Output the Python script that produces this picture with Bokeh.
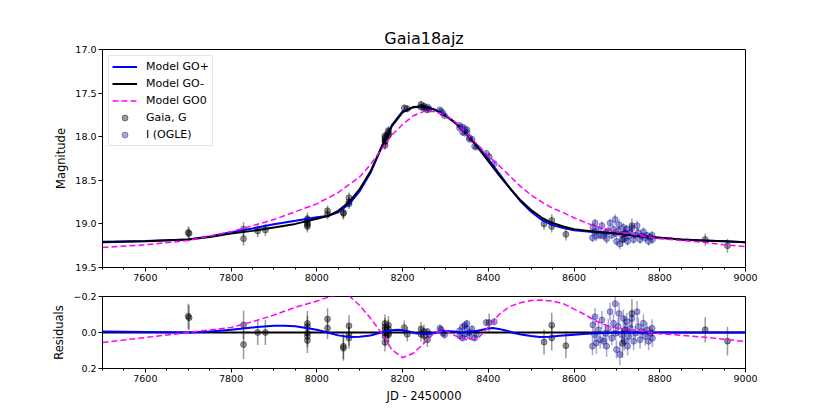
import numpy as np
from bokeh.plotting import figure
from bokeh.layouts import column
from bokeh.models import (Range1d, FixedTicker, NumeralTickFormatter, CustomJSTickFormatter,
                          Legend, LegendItem, ColumnDataSource)
from bokeh.embed import file_html
from bokeh.resources import INLINE

# ---------------- data ----------------
title_text = "Gaia18ajz"
x_label = "JD - 2450000"
y_label_top = "Magnitude"
y_label_bot = "Residuals"
x_ticks = [7600, 7800, 8000, 8200, 8400, 8600, 8800, 9000]
y_ticks_top = [17.0, 17.5, 18.0, 18.5, 19.0, 19.5]
y_ticks_bot = [-0.2, 0.0, 0.2]

# model curves (magnitude)
model_jd = [7500, 7600, 7700, 7750, 7800, 7850, 7900, 7950, 8000, 8025, 8050, 8075, 8100, 8125,
            8150, 8175, 8200, 8225, 8250, 8275, 8300, 8325, 8350, 8375, 8400, 8425, 8450, 8475,
            8500, 8525, 8550, 8575, 8600, 8650, 8700, 8750, 8800, 8850, 8900, 8950, 9000]
go_minus = [19.21, 19.20, 19.18, 19.15, 19.11, 19.08, 19.04, 19.00, 18.94, 18.91, 18.85, 18.75, 18.60, 18.40,
            18.13, 17.88, 17.72, 17.66, 17.65, 17.69, 17.76, 17.85, 17.97, 18.12, 18.28, 18.44, 18.59, 18.73,
            18.84, 18.93, 18.99, 19.03, 19.06, 19.09, 19.11, 19.14, 19.16, 19.18, 19.19, 19.20, 19.21]
go_plus = [19.205, 19.197, 19.18, 19.145, 19.095, 19.052, 19.003, 18.965, 18.925, 18.91, 18.866, 18.775, 18.624, 18.417,
           18.13, 17.868, 17.708, 17.662, 17.658, 17.69, 17.752, 17.846, 17.965, 18.11, 18.258, 18.42, 18.587, 18.74,
           18.86, 18.955, 19.014, 19.048, 19.072, 19.097, 19.11, 19.14, 19.16, 19.18, 19.19, 19.20, 19.21]
go0_jd = [7500, 7600, 7700, 7750, 7800, 7850, 7900, 7950, 8000, 8050, 8100, 8125, 8150, 8175, 8200, 8225,
          8250, 8275, 8300, 8325, 8350, 8375, 8400, 8425, 8450, 8475, 8500, 8525, 8550, 8575, 8600, 8650,
          8700, 8750, 8800, 8850, 8900, 8950, 9000]
go0 = [19.27, 19.24, 19.19, 19.14, 19.09, 19.02, 18.95, 18.86, 18.77, 18.64, 18.46, 18.32, 18.15, 17.98, 17.86, 17.76,
       17.71, 17.71, 17.75, 17.84, 17.97, 18.09, 18.22, 18.33, 18.45, 18.57, 18.67, 18.75, 18.82, 18.87, 18.93, 19.03,
       19.09, 19.13, 19.17, 19.19, 19.21, 19.24, 19.26]

# residual curves (relative to GO-)
res_zero_jd = [7500, 9000]
res_zero = [0.0, 0.0]
res_plus_jd = [7500, 7600, 7700, 7750, 7800, 7850, 7900, 7925, 7950, 8000, 8025, 8050, 8075, 8100, 8125, 8150,
               8175, 8190, 8210, 8230, 8260, 8280, 8294, 8320, 8340, 8360, 8375, 8400, 8410, 8425, 8443, 8460,
               8480, 8500, 8520, 8545, 8567, 8600, 8630, 8700, 8800, 9000]
res_plus = [-0.005, -0.003, 0.0, -0.005, -0.015, -0.028, -0.037, -0.038, -0.035, -0.015, 0.0, 0.016, 0.025, 0.024, 0.017, 0.0,
            -0.012, -0.015, -0.008, 0.004, 0.009, 0.0, -0.010, -0.005, 0.0, -0.005, -0.010, -0.022, -0.025, -0.020, -0.010, 0.003,
            0.013, 0.020, 0.025, 0.024, 0.018, 0.012, 0.007, 0.0, 0.0, 0.0]
res_go0_jd = [7500, 7600, 7700, 7800, 7850, 7900, 7950, 8000, 8025, 8050, 8075, 8100, 8125, 8150, 8175, 8200, 8225,
              8250, 8275, 8300, 8325, 8350, 8375, 8400, 8425, 8450, 8475, 8500, 8525, 8550, 8575, 8600, 8625, 8650,
              8675, 8700, 8750, 8800, 8850, 8900, 8950, 9000]
res_go0 = [0.055, 0.028, 0.0, -0.028, -0.06, -0.097, -0.14, -0.175, -0.195, -0.21, -0.205, -0.15, -0.08, 0.0, 0.095, 0.14, 0.115,
           0.06, 0.0, -0.01, 0.02, 0.04, 0.035, -0.03, -0.10, -0.145, -0.165, -0.178, -0.18, -0.175, -0.16, -0.13, -0.10, -0.065,
           -0.04, -0.025, -0.01, 0.007, 0.015, 0.025, 0.038, 0.05]

# Gaia G photometry
gaia_jd = [7700, 7702, 7829, 7829, 7862, 7880,
           7978, 7978, 7978, 7978, 7978,
           8025, 8025, 8062, 8062, 8075, 8075, 8075,
           8159, 8159, 8159, 8159, 8159, 8159,
           8167, 8167, 8167, 8167,
           8204, 8211, 8243, 8243, 8250, 8250, 8258,
           8402, 8530, 8548, 8548, 8581, 8713, 8718, 8735, 8906, 8958]
gaia_mag = [19.10, 19.11, 19.06, 19.17, 19.08, 19.07,
            18.94, 18.96, 18.99, 19.01, 19.03,
            18.85, 18.89, 18.87, 18.88, 18.70, 18.75, 18.77,
            17.99, 18.01, 18.03, 18.05, 18.06, 18.10,
            17.93, 17.95, 17.98, 17.98,
            17.67, 17.68, 17.63, 17.66, 17.65, 17.67, 17.69,
            18.23, 19.00, 18.96, 19.03, 19.12, 19.18, 19.11, 19.02, 19.18, 19.25]
gaia_err = [0.07, 0.07, 0.08, 0.08, 0.07, 0.07,
            0.07, 0.06, 0.06, 0.06, 0.07,
            0.06, 0.06, 0.07, 0.07, 0.06, 0.06, 0.06,
            0.05, 0.05, 0.05, 0.05, 0.05, 0.05,
            0.05, 0.05, 0.05, 0.05,
            0.04, 0.04, 0.04, 0.04, 0.04, 0.04, 0.04,
            0.05, 0.07, 0.07, 0.07, 0.07, 0.08, 0.08, 0.08, 0.07, 0.08]
gaia_res = [-0.090, -0.082, -0.042, 0.067, 0.000, 0.000,
            -0.050, -0.033, 0.004, 0.022, 0.044,
            -0.075, -0.024, 0.077, 0.087, -0.037, 0.013, 0.030,
            -0.050, -0.030, -0.015, 0.004, 0.022, 0.055,
            -0.040, -0.020, 0.005, 0.013,
            -0.027, 0.010, -0.020, 0.010, -0.005, 0.018, 0.040,
            -0.055, 0.053, -0.040, 0.030, 0.073, 0.060, -0.010, -0.105, -0.015, 0.048]

# OGLE I photometry
ogle_jd = [8258, 8262, 8287, 8290, 8294, 8298, 8333, 8333, 8340, 8340, 8345, 8345, 8350, 8350,
           8356, 8356, 8362, 8368, 8372, 8395, 8414,
           8643, 8644, 8648, 8649, 8652, 8657, 8661, 8665, 8669, 8673, 8676, 8680, 8684, 8688,
           8692, 8696, 8697, 8699, 8703, 8705, 8707, 8711, 8715, 8717, 8720, 8723, 8725, 8728,
           8731, 8735, 8739, 8743, 8747, 8750, 8754, 8758, 8762, 8766, 8770, 8774, 8778, 8782, 8783]
ogle_mag = [17.66, 17.68, 17.69, 17.71, 17.73, 17.76, 17.87, 17.90, 17.89, 17.95, 17.91, 17.96, 17.92, 17.95,
            18.01, 18.03, 18.03, 18.11, 18.12, 18.19, 18.31,
            19.16, 19.04, 19.09, 18.99, 19.14, 19.07, 19.13, 19.02, 19.14, 19.10, 19.17, 19.08, 18.99, 19.13,
            19.06, 18.95, 19.11, 19.20, 19.08, 19.01, 19.23, 19.12, 19.04, 19.17, 19.11, 19.06, 19.20, 19.14,
            19.10, 19.05, 19.18, 19.13, 19.02, 19.10, 19.18, 19.14, 19.09, 19.16, 19.13, 19.20, 19.15, 19.13, 19.18]
ogle_err = [0.02, 0.02, 0.02, 0.02, 0.02, 0.02, 0.02, 0.02, 0.02, 0.02, 0.02, 0.02, 0.02, 0.02,
            0.02, 0.02, 0.02, 0.02, 0.02, 0.02, 0.02,
            0.05, 0.05, 0.04, 0.05, 0.06, 0.04, 0.05, 0.05, 0.04, 0.05, 0.06, 0.05, 0.05, 0.04,
            0.05, 0.06, 0.04, 0.05, 0.05, 0.06, 0.06, 0.04, 0.05, 0.05, 0.04, 0.05, 0.05, 0.04,
            0.05, 0.05, 0.05, 0.04, 0.06, 0.05, 0.05, 0.04, 0.05, 0.05, 0.04, 0.05, 0.04, 0.05, 0.05]
ogle_res = [-0.005, 0.010, -0.024, -0.015, 0.004, 0.013, -0.010, 0.020, -0.030, 0.030, -0.040, 0.010, -0.050, -0.020,
            0.000, 0.020, -0.020, 0.030, 0.010, -0.055, -0.060,
            0.076, -0.042, 0.013, -0.087, 0.058, -0.015, 0.040, -0.069, 0.049, 0.004, 0.076, -0.024, -0.115, 0.031,
            -0.051, -0.160, 0.004, 0.095, -0.033, -0.105, 0.122, 0.013, -0.078, 0.049, -0.015, -0.060, 0.076, 0.022,
            -0.024, -0.078, 0.049, 0.004, -0.115, -0.033, 0.040, -0.005, -0.051, 0.022, -0.015, 0.049, 0.004, -0.024, 0.031]

# ---------------- styling ----------------
FONT = "DejaVu Sans"
GAIA_COLOR = "black"
GAIA_ALPHA = 0.4
OGLE_COLOR = "darkblue"
OGLE_ALPHA = 0.35


def style_axes(p, yticks):
    for ax in p.xaxis + p.yaxis:
        ax.axis_line_color = "black"
        ax.major_tick_line_color = "black"
        ax.minor_tick_line_color = "black"
        ax.major_tick_out = 4
        ax.major_tick_in = 0
        ax.minor_tick_out = 2
        ax.minor_tick_in = 0
        ax.major_label_text_font = FONT
        ax.major_label_text_font_size = "9.5px"
        ax.major_label_text_color = "black"
        ax.major_label_standoff = 2
        ax.axis_label_text_font = FONT
        ax.axis_label_text_font_size = "11.5px"
        ax.axis_label_text_font_style = "normal"
        ax.axis_label_text_color = "black"
        ax.axis_label_standoff = 4
    p.xaxis.ticker = FixedTicker(ticks=x_ticks, minor_ticks=list(range(7500, 9001, 50)))
    p.yaxis.ticker = FixedTicker(ticks=yticks)
    p.yaxis.minor_tick_line_color = None
    p.xgrid.visible = False
    p.ygrid.visible = False
    p.outline_line_color = "black"
    p.outline_line_alpha = 1.0
    p.background_fill_color = "white"
    p.border_fill_color = "white"


def errsrc(x, y, e):
    y = np.asarray(y, dtype=float)
    e = np.asarray(e, dtype=float)
    return ColumnDataSource(dict(x=x, y=y, lo=y - e, hi=y + e))


# ---------------- top panel ----------------
p1 = figure(frame_width=643, frame_height=218, output_backend="svg", toolbar_location=None,
            x_range=Range1d(7500, 9000), y_range=Range1d(19.5, 17.0),
            min_border_left=102, min_border_right=76, min_border_top=49, min_border_bottom=22,
            title=title_text)
p1.title.text_font = FONT
p1.title.text_font_size = "16px"
p1.title.text_font_style = "normal"
p1.title.text_color = "black"
p1.title.align = "center"
p1.title.standoff = 3
style_axes(p1, y_ticks_top)
p1.yaxis.axis_label = y_label_top
p1.yaxis.formatter = NumeralTickFormatter(format="0.0")

gs = errsrc(gaia_jd, gaia_mag, gaia_err)
os_ = errsrc(ogle_jd, ogle_mag, ogle_err)
p1.segment(x0="x", y0="lo", x1="x", y1="hi", source=gs, line_color=GAIA_COLOR, line_alpha=GAIA_ALPHA, line_width=1.5)
r_gaia = p1.scatter(x="x", y="y", source=gs, size=6, marker="circle",
                    fill_color=GAIA_COLOR, fill_alpha=GAIA_ALPHA, line_color=GAIA_COLOR, line_alpha=GAIA_ALPHA)
p1.segment(x0="x", y0="lo", x1="x", y1="hi", source=os_, line_color=OGLE_COLOR, line_alpha=OGLE_ALPHA, line_width=1.5)
r_ogle = p1.scatter(x="x", y="y", source=os_, size=6, marker="circle",
                    fill_color=OGLE_COLOR, fill_alpha=OGLE_ALPHA, line_color=OGLE_COLOR, line_alpha=OGLE_ALPHA)

r_plus = p1.line(model_jd, go_plus, line_color="blue", line_width=2)
r_minus = p1.line(model_jd, go_minus, line_color="black", line_width=2)
r_zero = p1.line(go0_jd, go0, line_color="magenta", line_width=1.5, line_dash="6 3")

legend = Legend(items=[
    LegendItem(label="Model GO+", renderers=[r_plus]),
    LegendItem(label="Model GO-", renderers=[r_minus]),
    LegendItem(label="Model GO0", renderers=[r_zero]),
    LegendItem(label="Gaia, G", renderers=[r_gaia]),
    LegendItem(label="I (OGLE)", renderers=[r_ogle]),
], location="top_left")
legend.margin = 6
legend.padding = 3
legend.spacing = 2
legend.glyph_width = 25
legend.glyph_height = 15
legend.label_height = 15
legend.label_standoff = 9
legend.label_text_font = FONT
legend.label_text_font_size = "11px"
legend.label_text_color = "black"
legend.border_line_color = "#cccccc"
legend.border_line_width = 1
legend.background_fill_alpha = 0.8
p1.add_layout(legend)

# ---------------- bottom panel ----------------
p2 = figure(frame_width=643, frame_height=72, output_backend="svg", toolbar_location=None,
            x_range=p1.x_range, y_range=Range1d(0.2, -0.2),
            min_border_left=102, min_border_right=76, min_border_top=7, min_border_bottom=36)
style_axes(p2, y_ticks_bot)
p2.yaxis.axis_label = y_label_bot
p2.xaxis.axis_label = x_label
p2.yaxis.formatter = CustomJSTickFormatter(
    code="return (tick < -1e-9 ? '\u2212' : '') + Math.abs(tick).toFixed(1);")

gr = errsrc(gaia_jd, gaia_res, gaia_err)
orr = errsrc(ogle_jd, ogle_res, ogle_err)
p2.segment(x0="x", y0="lo", x1="x", y1="hi", source=gr, line_color=GAIA_COLOR, line_alpha=GAIA_ALPHA, line_width=1.5)
p2.scatter(x="x", y="y", source=gr, size=6, marker="circle",
           fill_color=GAIA_COLOR, fill_alpha=GAIA_ALPHA, line_color=GAIA_COLOR, line_alpha=GAIA_ALPHA)
p2.segment(x0="x", y0="lo", x1="x", y1="hi", source=orr, line_color=OGLE_COLOR, line_alpha=OGLE_ALPHA, line_width=1.5)
p2.scatter(x="x", y="y", source=orr, size=6, marker="circle",
           fill_color=OGLE_COLOR, fill_alpha=OGLE_ALPHA, line_color=OGLE_COLOR, line_alpha=OGLE_ALPHA)

p2.line(res_zero_jd, res_zero, line_color="black", line_width=2)
p2.line(res_plus_jd, res_plus, line_color="blue", line_width=2)
p2.line(res_go0_jd, res_go0, line_color="magenta", line_width=1.5, line_dash="6 3")

layout = column(p1, p2, spacing=0)
open("out.html", "w").write(file_html(layout, INLINE))
